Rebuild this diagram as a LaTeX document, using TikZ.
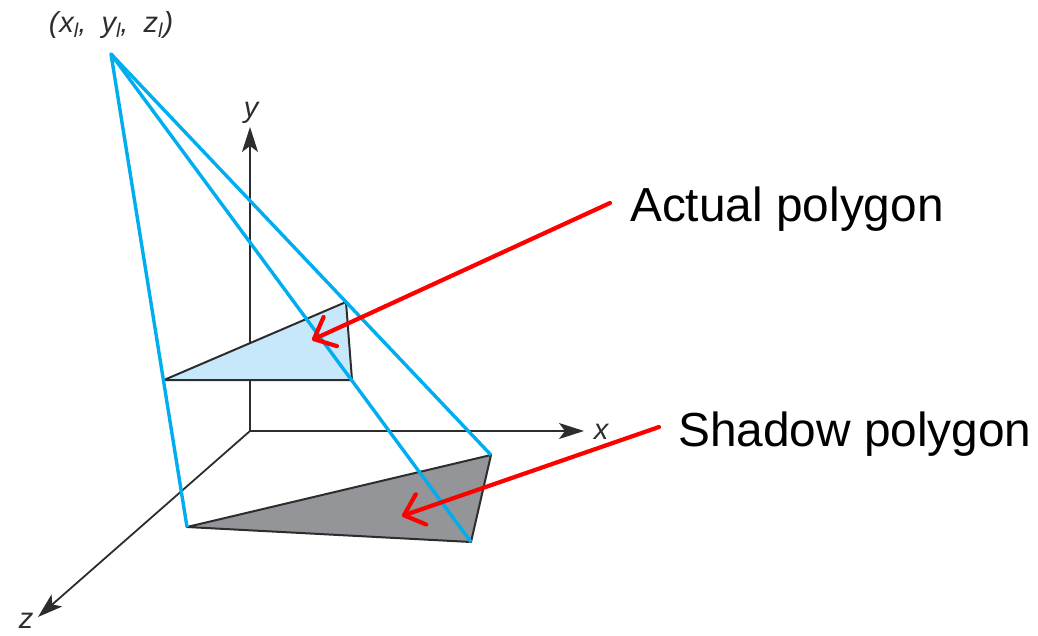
\documentclass[tikz,border=0pt]{standalone}
\usepackage{fontspec}
\setmainfont{Liberation Sans}
\usetikzlibrary{arrows.meta}
\definecolor{raycol}{RGB}{0,174,239}
\definecolor{polyblue}{RGB}{199,232,251}
\definecolor{polygray}{RGB}{147,149,152}
\definecolor{inkcol}{RGB}{45,45,45}
\newcommand{\lsub}{\raisebox{-5pt}{\fontsize{20}{20}\selectfont\itshape l}}
\tikzset{
  axisline/.style={draw=inkcol,line width=1.8pt,-{Stealth[length=25pt,width=16pt,inset=6pt]}},
  rayline/.style={draw=raycol,line width=3.4pt},
  polyedge/.style={draw=inkcol,line width=2pt,line join=round},
  callout/.style={draw=red,line width=4.2pt,line cap=round,-{Straight Barb[length=18pt,width=32pt,line width=4.2pt,round]}},
  biglabel/.style={font=\fontsize{47.8}{50}\selectfont,text=black,inner sep=0pt},
  axislabel/.style={font=\fontsize{29}{32}\selectfont\itshape,text=inkcol,inner sep=0pt}
}
\begin{document}
\begin{tikzpicture}[x=1pt,y=-1pt]
\useasboundingbox (0,0) rectangle (1038,636);
\coordinate (L) at (111,54);
\coordinate (O) at (250,431);
\coordinate (ytip) at (250,127);
\coordinate (xtip) at (584,431);
\coordinate (ztip) at (38,617);
\coordinate (a1) at (164,380);
\coordinate (a2) at (346,302);
\coordinate (a3) at (352,380);
\coordinate (s1) at (187,527);
\coordinate (s2) at (491,455);
\coordinate (s3) at (471,542);
\coordinate (t1) at (312,340);
\coordinate (t2) at (402,516);
% axes
\draw[axisline] (O) -- (ytip);
\draw[axisline] (O) -- (xtip);
\draw[axisline] (O) -- (ztip);
% polygons
\filldraw[fill=polyblue,polyedge] (a1) -- (a2) -- (a3) -- cycle;
\filldraw[fill=polygray,polyedge] (s1) -- (s2) -- (s3) -- cycle;
% rays
\draw[rayline,line join=round] (s1) -- (L) -- (s3);
\draw[rayline] (L) -- (s2);
% labels
\node[axislabel,anchor=base] (lightlabel) at (111,33) {(\hspace{1pt}\textit{x}\lsub,\hspace{7pt} \textit{y}\lsub,\hspace{7pt} \textit{z}\lsub\hspace{1pt})};
\node[axislabel,anchor=base] (ylabel) at (251,118) {y};
\node[axislabel,anchor=base] (xlabel) at (601,439) {x};
\node[axislabel,anchor=base] (zlabel) at (26,628) {z};
\node[biglabel,anchor=base west] (actual) at (630,222) {Actual polygon};
\node[biglabel,anchor=base west] (shadow) at (678,446) {Shadow polygon};
\coordinate (c1) at (610,203);
\coordinate (c2) at (659,427);
\draw[callout] (c1) -- (t1);
\draw[callout] (c2) -- (t2);
\end{tikzpicture}
\end{document}
